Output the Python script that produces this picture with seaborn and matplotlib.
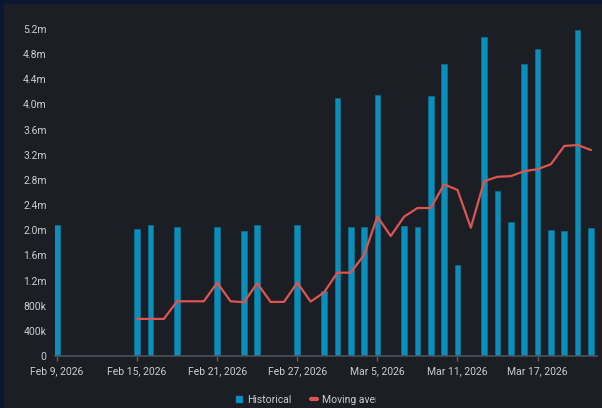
import pandas as pd
import matplotlib
matplotlib.use("Agg")
import matplotlib.pyplot as plt
import seaborn as sns
from matplotlib.patches import Rectangle
from matplotlib.lines import Line2D
from matplotlib.ticker import FuncFormatter, MultipleLocator
from matplotlib.transforms import Bbox

# values in millions
hist_dates = [
    "2026-02-09", "2026-02-15", "2026-02-16", "2026-02-18", "2026-02-21",
    "2026-02-23", "2026-02-24", "2026-02-27", "2026-03-01", "2026-03-02",
    "2026-03-03", "2026-03-04", "2026-03-05", "2026-03-07", "2026-03-08",
    "2026-03-09", "2026-03-10", "2026-03-11", "2026-03-13", "2026-03-14",
    "2026-03-15", "2026-03-16", "2026-03-17", "2026-03-18", "2026-03-19",
    "2026-03-20", "2026-03-21",
]
hist_values = [
    2.08, 2.02, 2.08, 2.05, 2.05, 1.98, 2.08, 2.08, 1.04, 4.10,
    2.05, 2.05, 4.15, 2.07, 2.05, 4.13, 4.64, 1.44, 5.07, 2.62,
    2.13, 4.64, 4.88, 2.00, 1.98, 5.19, 2.04,
]
ma_start = "2026-02-15"
ma_values = [
    0.59, 0.59, 0.59, 0.87, 0.87, 0.87, 1.166, 0.87, 0.855, 1.156,
    0.86, 0.86, 1.166, 0.865, 1.01, 1.325, 1.325, 1.606, 2.215, 1.908,
    2.215, 2.353, 2.353, 2.73, 2.64, 2.04, 2.78, 2.85, 2.86, 2.94,
    2.97, 3.05, 3.34, 3.355, 3.275,
]
tick_dates = ["2026-02-09", "2026-02-15", "2026-02-21", "2026-02-27",
              "2026-03-05", "2026-03-11", "2026-03-17"]

BG = "#1b1e25"
FRAME = "#0b1631"
BAR = "#0a8fba"
LINE = "#dc5550"
TXT = "#c9ccd1"

start = pd.Timestamp(hist_dates[0])
hist = pd.DataFrame({"date": pd.to_datetime(hist_dates), "value": hist_values})
hist["day"] = (hist["date"] - start).dt.days
ma = pd.DataFrame({
    "date": pd.date_range(ma_start, periods=len(ma_values), freq="D"),
    "value": ma_values,
})
ma["day"] = (ma["date"] - start).dt.days

sns.set_style("dark")
plt.rcParams["font.family"] = ["Roboto", "DejaVu Sans"]

fig = plt.figure(figsize=(6.02, 4.08), dpi=100)
fig.patch.set_facecolor(FRAME)
fig.patches.append(Rectangle((4 / 602, 0), 1, 404 / 408, transform=fig.transFigure,
                             facecolor=BG, edgecolor="none", zorder=-10))
ax = fig.add_axes([55 / 602, 52 / 408, 542 / 602, 339.6 / 408])
ax.set_facecolor(BG)

sns.barplot(data=hist, x="day", y="value", native_scale=True, width=0.42,
            color=BAR, saturation=1, edgecolor="#0a7ca3", linewidth=0.4, ax=ax)
sns.lineplot(data=ma, x="day", y="value", color=LINE, linewidth=1.6, ax=ax)

ax.set_xlim(-0.15, 40.45)
ax.set_ylim(0, 5.4)
ax.yaxis.set_major_locator(MultipleLocator(0.4))


def fmt(v, pos):
    if v < 1e-9:
        return "0"
    if v < 1:
        return f"{v * 1000:.0f}k"
    return f"{v:.1f}m"


ax.yaxis.set_major_formatter(FuncFormatter(fmt))
tick_days = [(pd.Timestamp(d) - start).days for d in tick_dates]
ax.set_xticks(tick_days)
ax.set_xticklabels([f"{pd.Timestamp(d):%b} {pd.Timestamp(d).day}, {pd.Timestamp(d).year}"
                    for d in tick_dates])
ax.tick_params(axis="y", length=0, pad=6, labelsize=7.5, labelcolor=TXT)
ax.tick_params(axis="x", length=3.5, width=1, color="#5a5f69", pad=4,
               labelsize=7.5, labelcolor=TXT, bottom=True)
ax.grid(False)
for s in ["top", "right", "left"]:
    ax.spines[s].set_visible(False)
ax.spines["bottom"].set_color("#4c515b")
ax.spines["bottom"].set_linewidth(1.2)
ax.set_xlabel("")
ax.set_ylabel("")

handles = [
    Line2D([], [], marker="s", linestyle="none", markersize=4.5,
           markerfacecolor=BAR, markeredgecolor=BAR),
    Line2D([], [], color=LINE, linewidth=3, solid_capstyle="round"),
]
leg = fig.legend(handles, ["Historical", "Moving average"], ncol=2,
                 loc="center left", bbox_to_anchor=(227 / 602, 8 / 408),
                 frameon=False, fontsize=7.5, labelcolor=TXT,
                 handlelength=0.5, handletextpad=0.55, columnspacing=1.9)
clip = Bbox.from_extents(0, 0, 376, 408)
leg.get_texts()[1].set_clip_box(clip)
leg.get_texts()[1].set_clip_on(True)

plt.savefig("out.png", dpi=100, facecolor=FRAME)
plt.close()
